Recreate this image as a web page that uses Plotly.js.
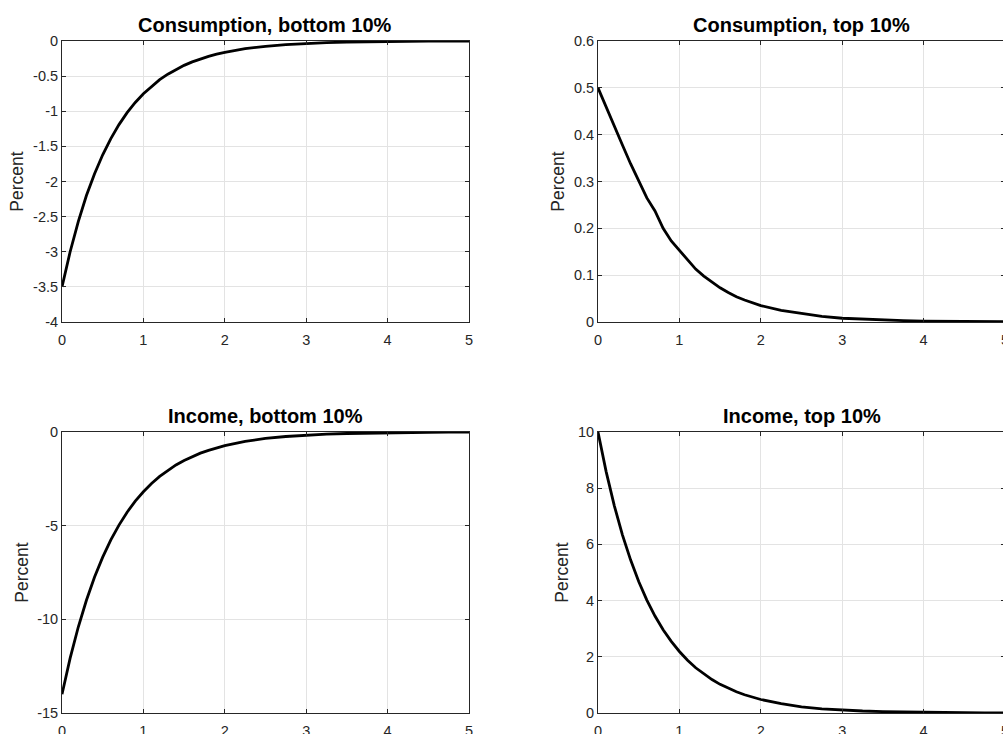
<!DOCTYPE html>
<html>
<head>
<meta charset="utf-8">
<script src="https://cdn.plot.ly/plotly-3.0.1.min.js"></script>
<style>
html, body { margin: 0; padding: 0; overflow: hidden; background: #fff; }
#chart { width: 1020px; height: 734px; }
</style>
</head>
<body>
<div id="chart"></div>
<script>
// Time axis (years)
const t = [0, 0.1, 0.2, 0.3, 0.4, 0.5, 0.6, 0.7, 0.8, 0.9, 1.0,
           1.1, 1.2, 1.3, 1.4, 1.5, 1.6, 1.7, 1.8, 1.9, 2.0,
           2.25, 2.5, 2.75, 3.0, 3.25, 3.5, 3.75, 4.0, 4.25, 4.5, 4.75, 5.0];

// Consumption, bottom 10% (percent)
const consBottom = [-3.5, -3.0, -2.57, -2.2, -1.89, -1.62, -1.39, -1.19, -1.02, -0.875, -0.75,
                    -0.643, -0.55, -0.472, -0.405, -0.347, -0.297, -0.255, -0.219, -0.188, -0.161,
                    -0.11, -0.075, -0.051, -0.034, -0.023, -0.016, -0.011, -0.007, -0.005, -0.003, -0.002, -0.0015];

// Consumption, top 10% (percent)
const consTop = [0.5, 0.458, 0.418, 0.378, 0.338, 0.3, 0.265, 0.237, 0.2, 0.173, 0.153,
                 0.132, 0.113, 0.098, 0.085, 0.073, 0.063, 0.054, 0.047, 0.041, 0.035,
                 0.025, 0.018, 0.012, 0.008, 0.006, 0.004, 0.003, 0.002, 0.0015, 0.001, 0.0007, 0.0005];

// Income, bottom 10% (percent)
const incBottom = [-14, -12.07, -10.41, -8.98, -7.74, -6.68, -5.76, -4.97, -4.28, -3.69, -3.19,
                   -2.75, -2.37, -2.04, -1.76, -1.52, -1.31, -1.13, -0.98, -0.84, -0.725,
                   -0.5, -0.345, -0.24, -0.165, -0.114, -0.079, -0.054, -0.038, -0.026, -0.018, -0.012, -0.008];

// Income, top 10% (percent)
const incTop = [10, 8.59, 7.38, 6.34, 5.45, 4.68, 4.02, 3.45, 2.96, 2.55, 2.19,
                1.88, 1.61, 1.39, 1.19, 1.02, 0.88, 0.755, 0.65, 0.56, 0.48,
                0.33, 0.22, 0.15, 0.105, 0.072, 0.049, 0.034, 0.023, 0.016, 0.011, 0.007, 0.005];

const titles = ["Consumption, bottom 10%", "Consumption, top 10%", "Income, bottom 10%", "Income, top 10%"];
const yLabel = "Percent";
const xTicks = [0, 1, 2, 3, 4, 5];
const yTicksConsBottom = [-4, -3.5, -3, -2.5, -2, -1.5, -1, -0.5, 0];
const yTicksConsTop = [0, 0.1, 0.2, 0.3, 0.4, 0.5, 0.6];
const yTicksIncBottom = [-15, -10, -5, 0];
const yTicksIncTop = [0, 2, 4, 6, 8, 10];

const W = 1020, H = 734;
const FONT = "Liberation Sans, Arial, Helvetica, sans-serif";
const axisColor = "#262626";
const gridColor = "#e3e3e3";

const xDomL = [62 / W, 469 / W];
const xDomR = [598 / W, 1005 / W];
const yDomT = [1 - 322 / H, 1 - 41 / H];
const yDomB = [1 - 713 / H, 1 - 432 / H];

function lineTrace(y, xa, ya) {
  return {
    x: t, y: y, xaxis: xa, yaxis: ya, type: "scatter", mode: "lines",
    line: { color: "#000000", width: 2.8 }, hoverinfo: "x+y", showlegend: false
  };
}

function xAxis(domain, anchor) {
  return {
    domain: domain, anchor: anchor, range: [0, 5], tickvals: xTicks,
    ticktext: xTicks.map(String), showgrid: true, gridcolor: gridColor, gridwidth: 1,
    zeroline: false, showline: true, linecolor: axisColor, linewidth: 1, mirror: "ticks",
    ticks: "inside", ticklen: 4, tickcolor: axisColor, ticklabelstandoff: 5,
    tickfont: { family: FONT, size: 14.5, color: axisColor }, fixedrange: true
  };
}

function yAxis(domain, anchor, range, ticks) {
  return {
    domain: domain, anchor: anchor, range: range, tickvals: ticks,
    ticktext: ticks.map(String), showgrid: true, gridcolor: gridColor, gridwidth: 1,
    zeroline: false, showline: true, linecolor: axisColor, linewidth: 1, mirror: "ticks",
    ticks: "inside", ticklen: 4, tickcolor: axisColor,
    tickfont: { family: FONT, size: 14.5, color: axisColor },
    title: { text: yLabel, font: { family: FONT, size: 17.5, color: axisColor }, standoff: 4 },
    fixedrange: true
  };
}

const data = [
  lineTrace(consBottom, "x", "y"),
  lineTrace(consTop, "x2", "y2"),
  lineTrace(incBottom, "x3", "y3"),
  lineTrace(incTop, "x4", "y4")
];

function titleAnn(text, xd, yd) {
  return {
    text: "<b>" + text + "</b>", xref: "paper", yref: "paper",
    x: (xd[0] + xd[1]) / 2, y: yd[1] + 3 / H, xanchor: "center", yanchor: "bottom",
    showarrow: false, font: { family: FONT, size: 20, color: "#000000" }
  };
}

const layout = {
  width: W, height: H,
  margin: { l: 0, r: 0, t: 0, b: 0 },
  paper_bgcolor: "#ffffff", plot_bgcolor: "#ffffff",
  showlegend: false,
  xaxis: xAxis(xDomL, "y"),
  yaxis: yAxis(yDomT, "x", [-4, 0], yTicksConsBottom),
  xaxis2: xAxis(xDomR, "y2"),
  yaxis2: yAxis(yDomT, "x2", [0, 0.6], yTicksConsTop),
  xaxis3: xAxis(xDomL, "y3"),
  yaxis3: yAxis(yDomB, "x3", [-15, 0], yTicksIncBottom),
  xaxis4: xAxis(xDomR, "y4"),
  yaxis4: yAxis(yDomB, "x4", [0, 10], yTicksIncTop),
  annotations: [
    titleAnn(titles[0], xDomL, yDomT),
    titleAnn(titles[1], xDomR, yDomT),
    titleAnn(titles[2], xDomL, yDomB),
    titleAnn(titles[3], xDomR, yDomB)
  ]
};

Plotly.newPlot("chart", data, layout, { displayModeBar: false });
</script>
</body>
</html>
